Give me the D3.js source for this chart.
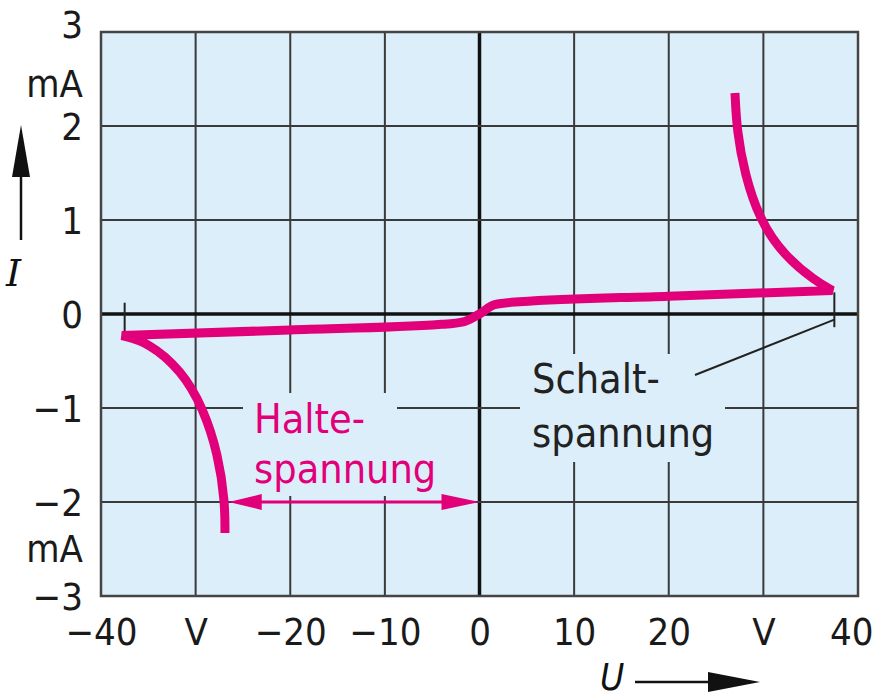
<html>
<head>
<meta charset="utf-8">
<title>Thyristordiode Kennlinie</title>
<style>
  body { margin: 0; background: #fff; }
  text { font-family: "DejaVu Sans Condensed", "DejaVu Sans", sans-serif; }
</style>
</head>
<body>
<script src="https://cdn.jsdelivr.net/npm/d3@7"></script>
<script>
var width = 884, height = 699;

// Achsen
var xTicks = [-40, -30, -20, -10, 0, 10, 20, 30, 40];
var xTickLabels = ["\u221240", "V", "\u221220", "\u221210", "0", "10", "20", "V", "40"];
var yTicks = [3, 2, 1, 0, -1, -2, -3];
var yTickLabels = ["3", "2", "1", "0", "\u22121", "\u22122", "\u22123"];
var yUnitPos = [2.45, -2.5];

// Kennlinie (U in V, I in mA)
var leftU  = [-26.9, -26.9, -27.6, -29.2, -31.5, -35, -37.8];
var leftI  = [-2.33, -2.0, -1.5, -1.0, -0.6, -0.3, -0.23];
var midU   = [-37.8, -20, -4, -1.6, 0, 1.6, 4.2, 20, 37.3];
var midI   = [-0.23, -0.17, -0.11, -0.08, 0, 0.1, 0.13, 0.19, 0.25];
var rightU = [37.3, 35.5, 32.2, 29.6, 28.0, 27.2, 27];
var rightI = [0.25, 0.35, 0.62, 1.0, 1.5, 1.95, 2.35];

var haltU = -26.5;    // Haltespannung
var schaltU = 37.5;   // Schaltspannung
var pink = "#e2007a";

var x = d3.scaleLinear().domain([-40, 40]).range([101, 858]);
var y = d3.scaleLinear().domain([-3, 3]).range([596, 32]);

var svg = d3.select("body").append("svg")
    .attr("width", width)
    .attr("height", height);

// Hintergrund
svg.append("rect")
    .attr("x", x(-40)).attr("y", y(3))
    .attr("width", x(40) - x(-40)).attr("height", y(-3) - y(3))
    .attr("fill", "#dbeef9");

// Gitter
svg.selectAll(".vgrid").data(xTicks).enter().append("line")
    .attr("x1", d => x(d)).attr("x2", d => x(d))
    .attr("y1", y(3)).attr("y2", y(-3))
    .attr("stroke", d => d === 0 ? "#111" : "#3a3a3a")
    .attr("stroke-width", d => d === 0 ? 3.5 : 2);
svg.selectAll(".hgrid").data(yTicks).enter().append("line")
    .attr("x1", x(-40)).attr("x2", x(40))
    .attr("y1", d => y(d)).attr("y2", d => y(d))
    .attr("stroke", d => d === 0 ? "#111" : "#3a3a3a")
    .attr("stroke-width", d => d === 0 ? 3.5 : 2);

// Textfelder decken das Gitter ab
svg.append("rect").attr("x", 243).attr("y", 393).attr("width", 154).attr("height", 103).attr("fill", "#dbeef9");
svg.append("rect").attr("x", 520).attr("y", 354).attr("width", 205).attr("height", 108).attr("fill", "#dbeef9");

// Achsbeschriftungen
var xAxis = svg.append("g")
    .attr("transform", "translate(0," + (y(-3) + 46) + ")")
    .call(d3.axisBottom(x).tickValues(xTicks).tickSize(0)
        .tickFormat((d, i) => xTickLabels[i]));
var yAxis = svg.append("g")
    .attr("transform", "translate(" + (x(-40) - 18) + ",0)")
    .call(d3.axisLeft(y).tickValues(yTicks).tickSize(0)
        .tickFormat((d, i) => yTickLabels[i]));
[xAxis, yAxis].forEach(function (g) {
    g.select(".domain").remove();
    g.selectAll("text")
        .style("font-family", "DejaVu Sans Condensed")
        .attr("font-size", 38)
        .attr("fill", "#1a1a1a");
});
xAxis.selectAll(".tick text").attr("dy", 0)
    .filter((d, i) => i === xTicks.length - 1)
    .attr("text-anchor", "end").attr("x", 15);
yAxis.selectAll(".tick text").attr("x", 0).attr("dy", "0.35em")
    .filter(d => d === 3).attr("dy", "0.15em");

svg.selectAll(".unit").data(yUnitPos).enter().append("text")
    .attr("x", x(-40) - 18).attr("y", d => y(d))
    .attr("dy", "0.35em")
    .attr("text-anchor", "end")
    .attr("font-size", 38)
    .attr("fill", "#1a1a1a")
    .text("mA");

// Achspfeile
svg.append("line").attr("x1", 635).attr("x2", 712).attr("y1", 682).attr("y2", 682)
    .attr("stroke", "#111").attr("stroke-width", 2.5);
svg.append("path").attr("d", "M708,672L760,682L708,692Z").attr("fill", "#111");
svg.append("text").attr("x", 600).attr("y", 690)
    .attr("font-size", 37).attr("font-style", "italic").attr("fill", "#111").text("U");

svg.append("line").attr("x1", 21).attr("x2", 21).attr("y1", 240).attr("y2", 172)
    .attr("stroke", "#111").attr("stroke-width", 2.5);
svg.append("path").attr("d", "M12,177L21,125L30,177Z").attr("fill", "#111");
svg.append("text").attr("x", 6).attr("y", 286)
    .style("font-family", "DejaVu Serif").attr("font-size", 38)
    .attr("font-style", "italic").attr("fill", "#111").text("I");

// Schaltspannung-Markierungen
svg.append("line").attr("x1", x(schaltU)).attr("x2", x(schaltU))
    .attr("y1", y(0.23)).attr("y2", y(-0.14))
    .attr("stroke", "#222").attr("stroke-width", 2);
svg.append("line").attr("x1", x(-schaltU)).attr("x2", x(-schaltU))
    .attr("y1", y(0.12)).attr("y2", y(-0.23))
    .attr("stroke", "#222").attr("stroke-width", 2);
svg.append("line").attr("x1", 695).attr("y1", 375)
    .attr("x2", x(schaltU)).attr("y2", y(-0.06))
    .attr("stroke", "#222").attr("stroke-width", 2);

svg.append("text").attr("x", 532).attr("y", 393)
    .attr("font-size", 41).attr("fill", "#222").text("Schalt-");
svg.append("text").attr("x", 532).attr("y", 447)
    .attr("font-size", 41).attr("fill", "#222").text("spannung");

// Haltespannung
svg.append("text").attr("x", 254).attr("y", 433)
    .attr("font-size", 41).attr("fill", pink).text("Halte-");
svg.append("text").attr("x", 254).attr("y", 483)
    .attr("font-size", 41).attr("fill", pink).text("spannung");

var ay = y(-2);
svg.append("line").attr("x1", x(haltU) + 20).attr("x2", x(0) - 25)
    .attr("y1", ay).attr("y2", ay)
    .attr("stroke", pink).attr("stroke-width", 3);
svg.append("path")
    .attr("d", "M" + x(haltU) + "," + ay + "L" + (x(haltU) + 33) + "," + (ay - 8) + "L" + (x(haltU) + 33) + "," + (ay + 8) + "Z")
    .attr("fill", pink);
svg.append("path")
    .attr("d", "M" + x(0) + "," + ay + "L" + (x(0) - 38) + "," + (ay - 8) + "L" + (x(0) - 38) + "," + (ay + 8) + "Z")
    .attr("fill", pink);

// Kennlinie als ein Pfad mit spitzen Ecken
function pts(us, is) { return us.map((u, i) => [u, is[i]]); }
var lineB = d3.line().x(d => x(d[0])).y(d => y(d[1])).curve(d3.curveBasis);
var lineX = d3.line().x(d => x(d[0])).y(d => y(d[1])).curve(d3.curveMonotoneX);
var dLeft = lineB(pts(leftU, leftI));
var dMid = lineX(pts(midU, midI));
var dRight = lineB(pts(rightU, rightI));
svg.append("path")
    .attr("d", dLeft + dMid.replace(/^M/, "L") + dRight.replace(/^M/, "L"))
    .attr("fill", "none")
    .attr("stroke", pink)
    .attr("stroke-width", 9)
    .attr("stroke-linejoin", "miter")
    .attr("stroke-miterlimit", 2.2);

// Rahmen
svg.append("rect")
    .attr("x", x(-40)).attr("y", y(3))
    .attr("width", x(40) - x(-40)).attr("height", y(-3) - y(3))
    .attr("fill", "none").attr("stroke", "#444").attr("stroke-width", 2.5);
</script>
</body>
</html>
